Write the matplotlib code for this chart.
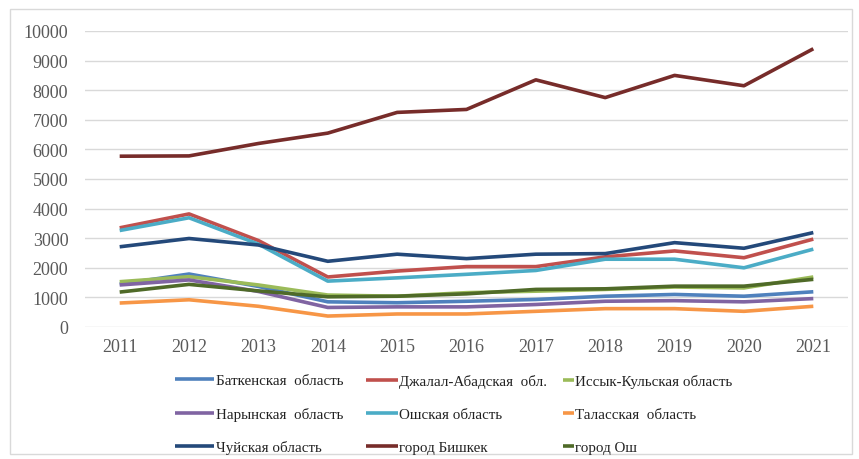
import matplotlib.pyplot as plt
from matplotlib.patches import Rectangle

years = [2011, 2012, 2013, 2014, 2015, 2016, 2017, 2018, 2019, 2020, 2021]

batken = [1450, 1790, 1370, 850, 820, 870, 930, 1040, 1100, 1040, 1190]
jalal_abad = [3350, 3820, 2920, 1690, 1890, 2040, 2040, 2370, 2570, 2340, 2970]
issyk_kul = [1530, 1700, 1420, 1080, 1040, 1160, 1210, 1270, 1350, 1320, 1690]
naryn = [1420, 1590, 1200, 660, 680, 680, 760, 870, 890, 850, 960]
osh_obl = [3260, 3690, 2800, 1550, 1660, 1780, 1910, 2290, 2290, 2000, 2630]
talas = [810, 920, 700, 370, 440, 440, 530, 620, 620, 530, 700]
chuy = [2710, 2990, 2770, 2220, 2460, 2310, 2460, 2480, 2850, 2660, 3190]
bishkek = [5770, 5780, 6200, 6550, 7250, 7350, 8350, 7750, 8500, 8150, 9400]
osh_city = [1180, 1440, 1220, 1020, 1040, 1120, 1270, 1290, 1380, 1380, 1610]

names = ['Баткенская  область', 'Джалал-Абадская  обл.', 'Иссык-Кульская область',
         'Нарынская  область', 'Ошская область', 'Таласская  область',
         'Чуйская область', 'город Бишкек', 'город Ош']
series = [batken, jalal_abad, issyk_kul, naryn, osh_obl, talas, chuy, bishkek, osh_city]
colors = ['#4F81BD', '#C0504D', '#9BBB59', '#8064A2', '#4BACC6', '#F79646',
          '#24497A', '#772C2A', '#4F6A28']

plt.rcParams['font.family'] = ['Liberation Serif', 'DejaVu Serif']

fig = plt.figure(figsize=(8.59, 4.6), dpi=100)
ax = fig.add_axes([85 / 859, 1 - 328 / 460, 763 / 859, 296 / 460])

lines = []
for vals, name, c in zip(series, names, colors):
    ln, = ax.plot(years, vals, color=c, lw=2.6, label=name, solid_capstyle='butt')
    lines.append(ln)

ax.set_xlim(2010.5, 2021.5)
ax.set_ylim(0, 10000)
ax.set_yticks(range(0, 10001, 1000))
ax.set_xticks(years)
ax.grid(axis='y', color='#D9D9D9', lw=1)
ax.set_axisbelow(True)
for s in ax.spines.values():
    s.set_visible(False)
ax.tick_params(axis='both', length=0, labelsize=13, colors='#595959')
ax.tick_params(axis='y', pad=12)
ax.tick_params(axis='x', pad=8)

# legend in three columns, handles of different length as in the original
col_x = [175, 366, 563]
col_len = [2.6, 2.1, 0.7]
for i in range(3):
    idx = [i, i + 3, i + 6]
    leg = fig.legend([lines[k] for k in idx], [names[k] for k in idx],
                     loc='upper left', bbox_to_anchor=(col_x[i] / 859, 1 - 375 / 460),
                     frameon=False, fontsize=10.8, handlelength=col_len[i],
                     handletextpad=0.1, borderpad=0, borderaxespad=0,
                     labelspacing=1.3)
    for t in leg.get_texts():
        t.set_color('#222222')

fig.patches.append(Rectangle((10 / 859, 5 / 460), 842 / 859, 445 / 460,
                             transform=fig.transFigure, fill=False,
                             edgecolor='#D9D9D9', lw=1))

fig.savefig('out.png', dpi=100)
